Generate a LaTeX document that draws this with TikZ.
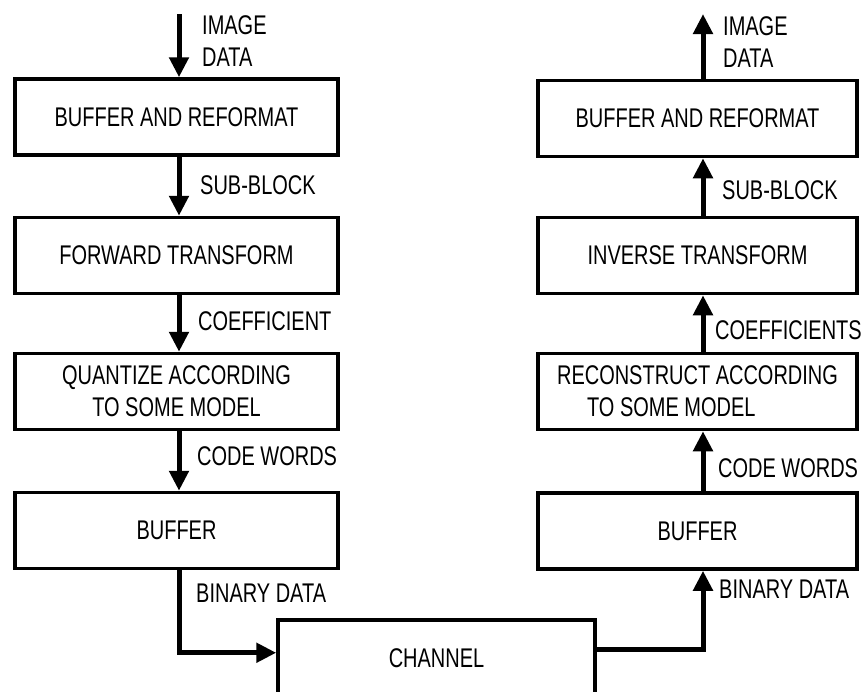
\documentclass[tikz,border=0pt]{standalone}
\usepackage{fontspec}
\setmainfont{Liberation Sans}[FakeStretch=0.74]
\usetikzlibrary{arrows.meta}
\tikzset{
  blk/.style={draw, line width=3.5pt, minimum height=76pt, inner sep=0pt, align=center},
  lblk/.style={blk, minimum width=323pt},
  rblk/.style={blk, minimum width=319pt},
  arr/.style={line width=5pt, -{Triangle[width=19pt,length=20pt]}},
  lbl/.style={anchor=west, align=left, inner sep=0pt},
}
\begin{document}
\begin{tikzpicture}[x=1pt,y=-1pt, font=\fontsize{27}{32}\selectfont]
\useasboundingbox (0,0) rectangle (861,691);
\clip (0,0) rectangle (861,691);
% left column
\node[lblk] (lb1) at (176.5,117) {BUFFER AND REFORMAT};
\node[lblk] (lb2) at (176.5,255.5) {FORWARD TRANSFORM};
\node[lblk] (lb3) at (176.5,391.5) {QUANTIZE ACCORDING\\TO SOME MODEL};
\node[lblk] (lb4) at (176.5,530.5) {BUFFER};
% right column
\node[rblk] (rb1) at (697.5,118.5) {BUFFER AND REFORMAT};
\node[rblk] (rb2) at (697.5,255.5) {INVERSE TRANSFORM};
\node[rblk, align=left] (rb3) at (697.5,391.5) {RECONSTRUCT ACCORDING\\\hspace*{30pt}TO SOME MODEL};
\node[rblk] (rb4) at (697.5,531) {BUFFER};
% channel
\node[draw, line width=3.5pt, minimum width=317pt, minimum height=76pt, anchor=north, inner sep=0pt] (ch) at (436.5,618) {CHANNEL};
% endpoints
\coordinate (inL) at (179,14);
\coordinate (outR) at (703,14);
% connectors
\draw[arr] (inL) -- ([xshift=2.5pt]lb1.north);
\draw[arr] ([xshift=2.5pt]lb1.south) -- ([xshift=2.5pt]lb2.north);
\draw[arr] ([xshift=2.5pt]lb2.south) -- ([xshift=2.5pt]lb3.north);
\draw[arr] ([xshift=2.5pt]lb3.south) -- ([xshift=2.5pt]lb4.north);
\draw[arr] ([xshift=2.5pt]lb4.south) |- ([yshift=5pt]ch.west);
\draw[arr] ([yshift=8pt]ch.east) -| ([xshift=5.5pt]rb4.south);
\draw[arr] ([xshift=5.5pt]rb4.north) -- ([xshift=5.5pt]rb3.south);
\draw[arr] ([xshift=5.5pt]rb3.north) -- ([xshift=5.5pt]rb2.south);
\draw[arr] ([xshift=5.5pt]rb2.north) -- ([xshift=5.5pt]rb1.south);
\draw[arr] ([xshift=5.5pt]rb1.north) -- (outR);
% labels
\node[lbl] (l1) at (202,41) {IMAGE\\DATA};
\node[lbl] (l2) at (200,185) {SUB-BLOCK};
\node[lbl] (l3) at (198,321) {COEFFICIENT};
\node[lbl] (l4) at (197,456) {CODE WORDS};
\node[lbl] (l5) at (196,593) {BINARY DATA};
\node[lbl] (r1) at (723,42) {IMAGE\\DATA};
\node[lbl] (r2) at (722,190) {SUB-BLOCK};
\node[lbl] (r3) at (715,330) {COEFFICIENTS};
\node[lbl] (r4) at (718,468) {CODE WORDS};
\node[lbl] (r5) at (719,589) {BINARY DATA};
\end{tikzpicture}
\end{document}
